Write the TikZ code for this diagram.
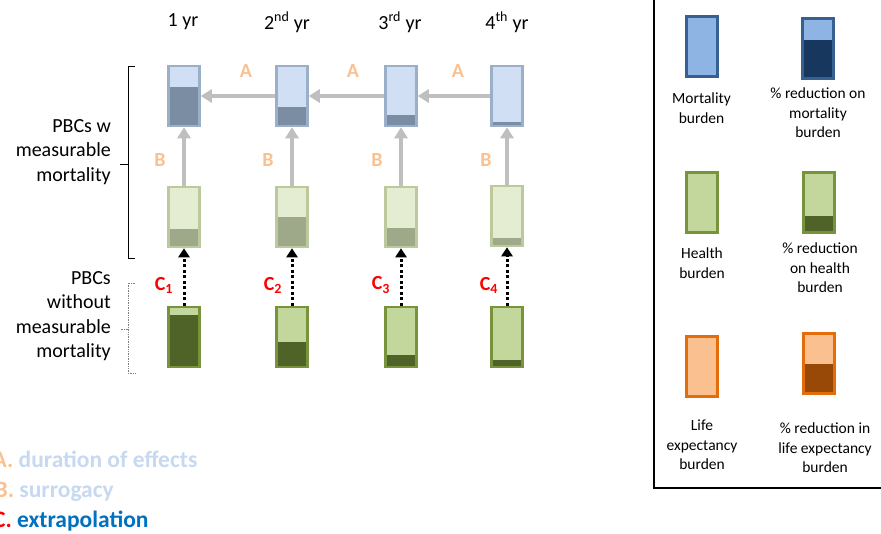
\documentclass[tikz,border=0pt]{standalone}
\usepackage{fontspec}
\setmainfont{Carlito}
\usepackage{xcolor}
\usetikzlibrary{arrows.meta}

\definecolor{mortfill}{HTML}{8EB4E3}
\definecolor{mortline}{HTML}{376092}
\definecolor{mortdark}{HTML}{17375E}
\definecolor{hlthfill}{HTML}{C3D69B}
\definecolor{hlthline}{HTML}{77933C}
\definecolor{hlthdark}{HTML}{4F6228}
\definecolor{lifefill}{HTML}{FAC090}
\definecolor{lifeline}{HTML}{E46C0A}
\definecolor{lifedark}{HTML}{984807}
\definecolor{arrowgray}{HTML}{BFBFBF}
\definecolor{tagorange}{HTML}{FAC090}
\definecolor{fadeblue}{HTML}{C6D9F1}
\definecolor{extrablue}{HTML}{0070C0}

\tikzset{
  % a burden bar, the darker part at the bottom is the reduction
  burden/.style={rectangle,inner sep=0pt,minimum width=31pt,minimum height=60pt,line width=2.5pt},
  share/.style 2 args={path picture={\fill[#1] (path picture bounding box.south west) rectangle ([yshift=#2]path picture bounding box.south east);}},
  mortrow/.style={burden,draw=mortline!50!white,fill=mortfill!42!white,share={mortdark!57!white}{#1}},
  hlthrow/.style={burden,draw=hlthline!50!white,fill=hlthfill!45!white,share={hlthdark!55!white}{#1}},
  pbcrow/.style={burden,draw=hlthline,fill=hlthfill,share={hlthdark}{#1}},
  keybar/.style={burden,line width=3pt},
  year/.style={font=\fontsize{20}{24}\selectfont},
  side/.style={align=right,anchor=east,inner sep=0pt,font=\fontsize{20}{24.5}\selectfont},
  keytext/.style={align=center,anchor=north,inner sep=0pt,font=\fontsize{15.5}{19.5}\selectfont},
  tag/.style={text=tagorange,font=\fontsize{20}{24}\selectfont\bfseries},
  tagC/.style={text=red,font=\fontsize{20}{24}\selectfont\bfseries},
  effect/.style={draw=arrowgray,line width=4pt,-{Triangle[length=11pt,width=13pt]}},
  extra/.style={line width=3pt,dash pattern=on 3pt off 2.5pt,-{Triangle[length=9pt,width=11pt]}},
  note/.style={anchor=base west,inner sep=0pt,font=\fontsize{23.5}{28}\selectfont\bfseries}
}

\begin{document}
\begin{tikzpicture}[x=1pt,y=-1pt]
    \useasboundingbox (0,0) rectangle (881,533);
    % years
    \node[year] (y1) at (183,22) {1 yr};
    \node[year] (y2) at (287,22) {2\textsuperscript{nd} yr};
    \node[year] (y3) at (400,22) {3\textsuperscript{rd} yr};
    \node[year] (y4) at (507,22) {4\textsuperscript{th} yr};
    % mortality burden
    \node[mortrow=39pt] (m1) at (184,96) {};
    \node[mortrow=19pt] (m2) at (292,96) {};
    \node[mortrow=11pt] (m3) at (401,96) {};
    \node[mortrow=4pt] (m4) at (507,96) {};
    % health burden, PBCs with measurable mortality
    \node[hlthrow=18pt] (h1) at (184,217) {};
    \node[hlthrow=30pt] (h2) at (292,217) {};
    \node[hlthrow=19pt] (h3) at (401,217) {};
    \node[hlthrow=8pt] (h4) at (507,216) {};
    % health burden, PBCs without measurable mortality
    \node[pbcrow=52pt] (p1) at (184,337) {};
    \node[pbcrow=25pt] (p2) at (292,337) {};
    \node[pbcrow=12pt] (p3) at (401,337) {};
    \node[pbcrow=7pt] (p4) at (507,337) {};
    % A: duration of effects
    \draw[effect] (m2) -- (m1);
    \draw[effect] (m3) -- (m2);
    \draw[effect] (m4) -- (m3);
    \node[tag] (a1) at (246,71) {A};
    \node[tag] (a2) at (353,71) {A};
    \node[tag] (a3) at (458,71) {A};
    % B: surrogacy
    \draw[effect] (h1) -- (m1);
    \draw[effect] (h2) -- (m2);
    \draw[effect] (h3) -- (m3);
    \draw[effect] (h4) -- (m4);
    \node[tag] (b1) at (160,160) {B};
    \node[tag] (b2) at (268,160) {B};
    \node[tag] (b3) at (377,160) {B};
    \node[tag] (b4) at (486,160) {B};
    % C: extrapolation
    \draw[extra] (p1) -- (h1);
    \draw[extra] (p2) -- (h2);
    \draw[extra] (p3) -- (h3);
    \draw[extra] (p4) -- (h4);
    \node[tagC] (c1) at (164,285) {C\textsubscript{1}};
    \node[tagC] (c2) at (273,285) {C\textsubscript{2}};
    \node[tagC] (c3) at (381,285) {C\textsubscript{3}};
    \node[tagC] (c4) at (489,285) {C\textsubscript{4}};
    % groups on the left
    \node[side] (gw) at (111,152) {PBCs w\\measurable\\mortality};
    \draw[line width=0.8pt] (135,66) -- (128,66) -- (128,258) -- (135,258);
    \draw[line width=0.8pt] (128,164) -- (120,164);
    \node[side] (gwo) at (111,316) {PBCs\\without\\measurable\\mortality};
    \draw[gray,densely dotted,line width=0.7pt] (135,283) -- (128,283) -- (128,373) -- (135,373);
    \draw[gray,densely dotted,line width=0.7pt] (128,329) -- (120,329);
    % key
    \draw[line width=1.3pt] (654,-5) rectangle (895,488);
    \node[keybar,draw=mortline,fill=mortfill] (km) at (701.5,46) {};
    \node[keybar,draw=mortline,fill=mortfill,share={mortdark}{39pt}] (kmr) at (817.5,48.5) {};
    \node[keybar,draw=hlthline,fill=hlthfill] (kh) at (702,202.5) {};
    \node[keybar,draw=hlthline,fill=hlthfill,share={hlthdark}{17pt}] (khr) at (818.5,202.5) {};
    \node[keybar,draw=lifeline,fill=lifefill] (kl) at (702,366.5) {};
    \node[keybar,draw=lifeline,fill=lifefill,share={lifedark}{30pt}] (klr) at (819,363.5) {};
    \node[keytext] (tm) at (701.5,93) {Mortality\\burden};
    \node[keytext] (tmr) at (818,88) {\% reduction on\\mortality\\burden};
    \node[keytext] (th) at (702,248) {Health\\burden};
    \node[keytext] (thr) at (820,243) {\% reduction\\on health\\burden};
    \node[keytext] (tl) at (702,420) {Life\\expectancy\\burden};
    \node[keytext] (tlr) at (825,423) {\% reduction in\\life expectancy\\burden};
    % what the letters stand for
    \node[note] (na) at (-7.5,467) {\textcolor{tagorange}{A.} \textcolor{fadeblue}{duration of effects}};
    \node[note] (nb) at (-5.5,497) {\textcolor{tagorange}{B.} \textcolor{fadeblue}{surrogacy}};
    \node[note] (nc) at (-7,527) {\textcolor{red}{C.} \textcolor{extrablue}{extrapolation}};
\end{tikzpicture}
\end{document}
